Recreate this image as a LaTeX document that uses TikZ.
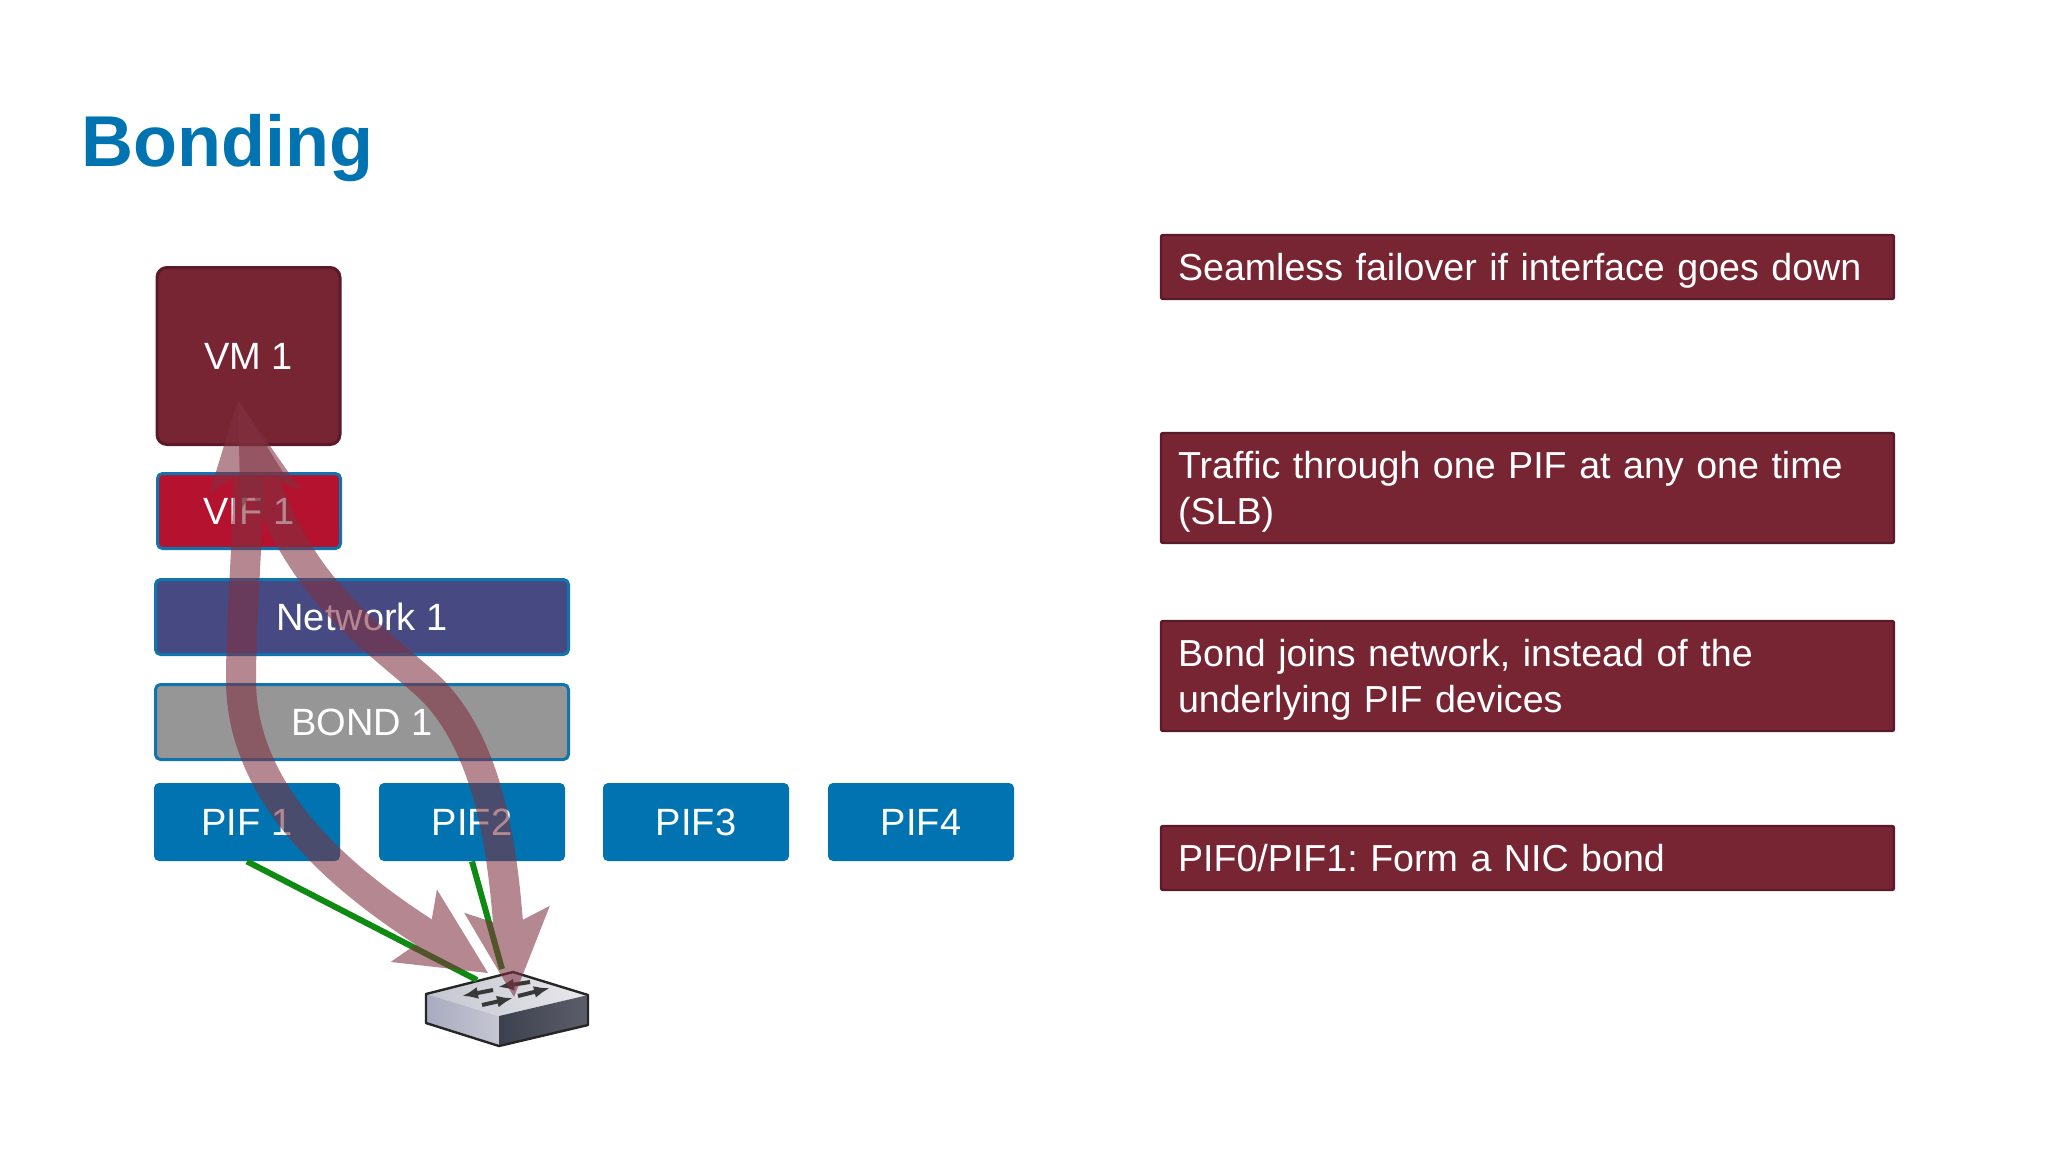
\documentclass[tikz,border=0pt]{standalone}
\usepackage{fontspec}
\setmainfont{Liberation Sans}
\usetikzlibrary{arrows.meta}
\definecolor{wine}{HTML}{772433}
\definecolor{wineedge}{HTML}{5A1A2A}
\definecolor{flowred}{HTML}{803040}
\definecolor{vifred}{HTML}{B5122F}
\definecolor{netblue}{HTML}{474A82}
\definecolor{bondgrey}{HTML}{969696}
\definecolor{pifblue}{HTML}{0073B0}
\definecolor{edgeblue}{HTML}{1075AE}
\definecolor{linkgreen}{HTML}{0F8A12}
\definecolor{swtopa}{HTML}{C4C5CF}
\definecolor{swtopb}{HTML}{E8E8EC}
\definecolor{swlefta}{HTML}{A8AAC0}
\definecolor{swleftb}{HTML}{C6C7D3}
\definecolor{swrighta}{HTML}{3D404E}
\definecolor{swrightb}{HTML}{5C5F6A}
\tikzset{
    every node/.style={inner sep=0mm, text=white, font=\fontsize{19}{23}\selectfont},
    layerbox/.style={draw=edgeblue, line width=1.5pt, rounded corners=2.5pt, minimum height=37.5pt},
    pifbox/.style={fill=pifblue, rounded corners=2.5pt, minimum width=93pt, minimum height=39pt},
    notebox/.style={fill=wine, draw=wineedge, line width=1.2pt, rounded corners=1pt,
        text width=349.5pt, minimum width=366.5pt, align=left, inner xsep=8.5pt,
        font=\fontsize{18.8}{23}\selectfont\frenchspacing},
    noteone/.style={notebox, minimum height=32pt, text depth=0pt},
    notetwo/.style={notebox, minimum height=55pt, text depth=23pt},
    greenlink/.style={draw=linkgreen, line width=3pt},
    flowgroup/.style={transparency group, opacity=.58},
    flowlink/.style={draw=flowred, line width=15pt},
    flowtips/.style={{Stealth[length=44pt, width=43pt, inset=9pt, line width=0pt]}-{Stealth[length=44pt, width=40pt, inset=9pt, line width=0pt]}},
    flowtipslong/.style={{Stealth[length=44pt, width=43pt, inset=9pt, line width=0pt]}-{Stealth[length=53pt, width=32pt, inset=14pt, line width=0pt]}},
    portmark/.style={draw=black!78, line width=2pt, -{Latex[length=8pt, width=6pt]}}
}

\begin{document}
\begin{tikzpicture}[x=.5pt, y=-.5pt]
    \useasboundingbox (0,0) rectangle (2048,1152);

    \node (title) at (81,148) [anchor=west, text=pifblue, font=\fontsize{36}{40}\selectfont\bfseries] {Bonding};

    \node (vm) at (248.5,356) [fill=wine, draw=wineedge, line width=1.5pt, rounded corners=5pt, minimum width=91.5pt, minimum height=88.5pt] {VM 1};
    \node (vif) at (249,511) [layerbox, fill=vifred, minimum width=91.5pt] {VIF 1};
    \node (net) at (362,617) [layerbox, fill=netblue, minimum width=206.5pt] {Network 1};
    \node (bond) at (362,722) [layerbox, fill=bondgrey, minimum width=206.5pt] {BOND 1};

    \node (pif1) at (247,822) [pifbox] {PIF 1};
    \node (pif2) at (472,822) [pifbox] {PIF2};
    \node (pif3) at (696,822) [pifbox] {PIF3};
    \node (pif4) at (921,822) [pifbox] {PIF4};

    \node (note1) at (1527.5,267) [noteone] {Seamless failover if interface goes down};
    \node (note2) at (1527.5,488) [notetwo] {Traffic through one PIF at any one time\\(SLB)};
    \node (note3) at (1527.5,676) [notetwo] {Bond joins network, instead of the\\underlying PIF devices};
    \node (note4) at (1527.5,858) [noteone] {PIF0/PIF1: Form a NIC bond};

    % switch
    \coordinate (swl) at (426,994);
    \coordinate (swt) at (513,972);
    \coordinate (swr) at (588,995);
    \coordinate (swf) at (499,1016);
    \coordinate (swlb) at (426,1023);
    \coordinate (swfb) at (499,1046);
    \coordinate (swrb) at (588,1025);
    \shade[left color=swtopa, right color=swtopb] (swl) -- (swt) -- (swr) -- (swf) -- cycle;
    \shade[left color=swlefta, right color=swleftb] (swl) -- (swf) -- (swfb) -- (swlb) -- cycle;
    \shade[left color=swrighta, right color=swrightb] (swf) -- (swr) -- (swrb) -- (swfb) -- cycle;
    \draw[black!85, line width=1.2pt, line join=round] (swl) -- (swt) -- (swr) -- (swrb) -- (swfb) -- (swlb) -- cycle;
    \draw[portmark] (493,990) -- (462,996);
    \draw[portmark] (482,1005) -- (513,998);
    \draw[portmark] (518,996) -- (550,988);
    \draw[portmark] (530,982) -- (498,987);

    % links to the switch
    \coordinate (swa) at (477,980);
    \coordinate (swb) at (502,969);
    \draw[greenlink] (pif1.south) -- (swa);
    \draw[greenlink] (pif2.south) -- (swb);

    % traffic
    \coordinate (tipa) at (488,973);
    \coordinate (tipb) at (514,997);
    \coordinate (tipvm) at (238,400);
    \coordinate (benda) at (241,680);
    \coordinate (bendb) at (427,685);
    \begin{scope}[flowgroup]
        \draw[flowlink, flowtips] (tipa) .. controls (350,885) and (241,800) .. (benda) .. controls (241,610) and (251,500) .. (tipvm);
    \end{scope}
    \begin{scope}[flowgroup]
        \draw[flowlink, flowtipslong] (tipb) .. controls (503,860) and (492,745) .. (bendb) .. controls (372,636) and (300,590) .. (tipvm);
    \end{scope}
\end{tikzpicture}
\end{document}
